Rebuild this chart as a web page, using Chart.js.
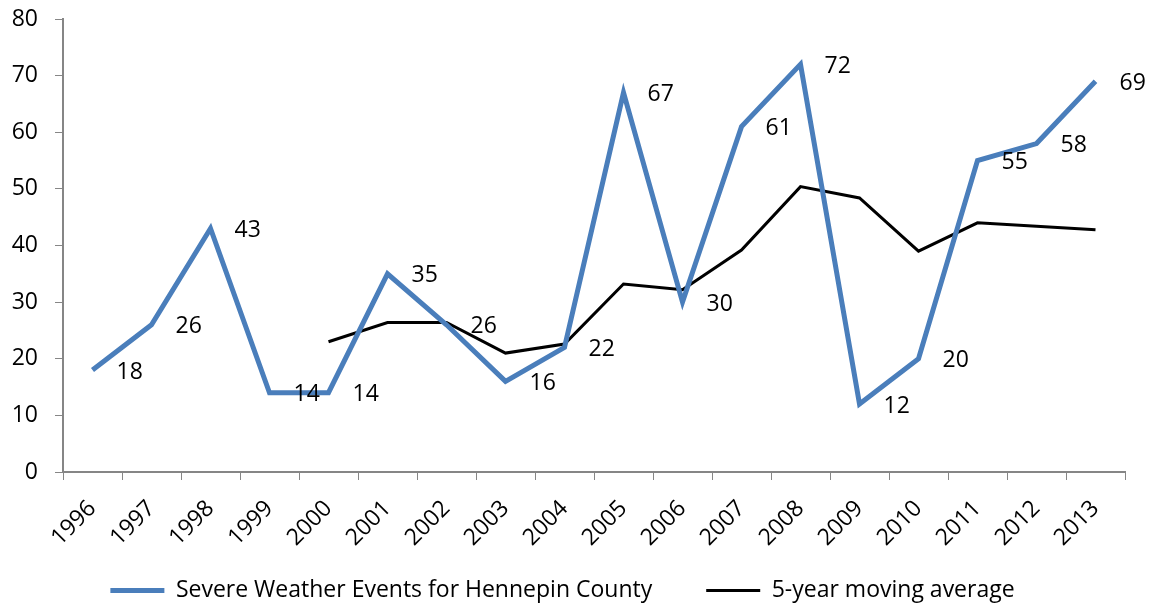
<!DOCTYPE html>
<html lang="en">
<head>
  <meta charset="UTF-8">
  <title>Severe Weather Events for Hennepin County</title>
  <script src="https://cdn.jsdelivr.net/npm/chart.js"></script>
  <style>
    body { margin: 0; background: #fff; }
  </style>
</head>
<body>
  <canvas id="weatherChart" width="1149" height="603"></canvas>

  <script>
    // Chart data
    const years = ['1996', '1997', '1998', '1999', '2000', '2001', '2002', '2003', '2004',
      '2005', '2006', '2007', '2008', '2009', '2010', '2011', '2012', '2013'];
    const severeEvents = [18, 26, 43, 14, 14, 35, 26, 16, 22, 67, 30, 61, 72, 12, 20, 55, 58, 69];
    const movingAverage = [null, null, null, null, 23, 26.4, 26.4, 21, 22.6, 33.2, 32.2, 39.2,
      50.4, 48.4, 39, 44, 43.4, 42.8];
    const yTicks = [0, 10, 20, 30, 40, 50, 60, 70, 80];

    const FONT = '"Open Sans", "Liberation Sans", sans-serif';
    const FONT_SIZE = 23;
    const AXIS_GREY = '#868686';
    Chart.defaults.font.family = FONT;
    Chart.defaults.font.size = FONT_SIZE;
    Chart.defaults.color = '#000';

    // value labels to the right of each blue point
    const valueLabels = {
      id: 'valueLabels',
      afterDatasetsDraw(chart) {
        const meta = chart.getDatasetMeta(0);
        const ctx = chart.ctx;
        ctx.save();
        ctx.font = FONT_SIZE + 'px ' + FONT;
        ctx.fillStyle = '#000';
        ctx.textAlign = 'left';
        ctx.textBaseline = 'middle';
        meta.data.forEach((pt, i) => {
          ctx.fillText(String(severeEvents[i]), pt.x + 24, pt.y + 2);
        });
        ctx.restore();
      }
    };

    new Chart(document.getElementById('weatherChart').getContext('2d'), {
      type: 'line',
      data: {
        labels: years,
        datasets: [{
          label: 'Severe Weather Events for Hennepin County',
          data: severeEvents,
          borderColor: '#4A7EBB',
          backgroundColor: '#4A7EBB',
          borderWidth: 5,
          pointRadius: 0,
          tension: 0
        }, {
          label: '5-year moving average',
          data: movingAverage,
          borderColor: '#000',
          backgroundColor: '#000',
          borderWidth: 3,
          pointRadius: 0,
          tension: 0
        }]
      },
      options: {
        responsive: false,
        animation: false,
        layout: { padding: { top: 19, right: 24, left: 0, bottom: -9 } },
        plugins: {
          tooltip: { enabled: false },
          legend: {
            position: 'bottom',
            labels: {
              boxWidth: 54,
              boxHeight: 0,
              padding: 54,
              generateLabels(chart) {
                return chart.data.datasets.map((ds, i) => ({
                  text: ds.label,
                  fillStyle: ds.borderColor,
                  strokeStyle: ds.borderColor,
                  lineWidth: ds.borderWidth,
                  datasetIndex: i
                }));
              }
            }
          }
        },
        scales: {
          x: {
            offset: true,
            grid: { display: true, offset: true, drawOnChartArea: false, drawTicks: true, tickLength: 8, color: AXIS_GREY },
            border: { color: AXIS_GREY, width: 2 },
            ticks: { maxRotation: 45, minRotation: 45, autoSkip: false, padding: 15 },
            afterFit(scale) {
              scale.height = 53;
              // rotated years hang below the short axis box, don't clip them
              scale._computeLabelArea = () => undefined;
            }
          },
          y: {
            min: 0,
            max: 80,
            afterBuildTicks(scale) { scale.ticks = yTicks.map(v => ({ value: v })); },
            grid: { drawOnChartArea: false, drawTicks: true, tickLength: 8, color: AXIS_GREY },
            border: { color: AXIS_GREY, width: 2 },
            ticks: { padding: 17 },
            afterFit(scale) {
              scale.width = 63;
              scale.paddingTop = 0;
              scale.paddingBottom = 0;
            }
          }
        }
      },
      plugins: [valueLabels]
    });
  </script>
</body>
</html>
